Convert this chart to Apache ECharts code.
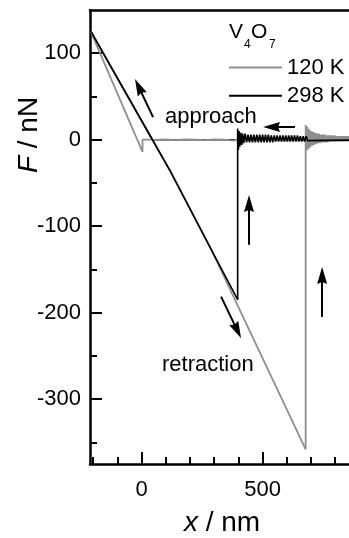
<!DOCTYPE html>
<html><head><meta charset="utf-8">
<script src="https://cdn.jsdelivr.net/npm/echarts@6/dist/echarts.min.js"></script>
<style>html,body{margin:0;padding:0;background:#fff}#c{width:349px;height:538px}</style>
</head><body><div id="c"></div>
<script>
const FONT = '"Liberation Sans", Arial, Helvetica, sans-serif';

// axis ticks / labels
const xMajorTicks = [0, 500];
const xMinorTicks = [-200, -100, 100, 200, 300, 400, 600, 700, 800];
const xTickLabels = [0, 500];
const yMajorTicks = [-300, -200, -100, 0, 100];
const yMinorTicks = [-350, -250, -150, -50, 50];

const seriesNames = ['120 K', '298 K'];

// 120 K approach: far -> snap-in at x~4 -> contact
const gray120Approach = [
  [1000, 0.5], [950, -0.5], [900, 0.5], [860, -0.5], [820, 0.5], [780, -0.5], [740, 0.5], [700, -0.5],
  [660, 0], [620, 0.5], [580, -0.5], [540, 0], [500, 0.5], [460, -0.5], [420, 0], [400, 1], [380, -1],
  [340, 0], [300, 0.5], [260, -0.5], [220, 0], [180, 0.5], [140, -0.5], [100, 0.3], [60, -0.3], [20, 0],
  [4, 0], [4, -14], [-213, 127]
];
// 120 K retraction: contact -> pull-off at x~678 -> ringing
const gray120Retract = [
  [-213, 127], [116, -35], [288, -127], [678, -358], [678, 17], [681, -13], [685, 15], [689, -11],
  [693, 12], [697, -9], [701, 10], [705, -7], [709, 9], [713, -6], [717, 8], [721, -5], [725, 7],
  [729, -4], [733, 7], [737, -4], [741, 6], [745, -3], [749, 6], [753, -3], [757, 6], [761, -3],
  [765, 5], [769, -3], [773, 5], [777, -2], [781, 5], [785, -2], [789, 5], [793, -2], [797, 5],
  [801, -2], [805, 4], [809, -2], [813, 4], [817, -2], [821, 4], [825, -2], [829, 4], [833, -2],
  [837, 4], [841, -2], [845, 4], [849, -2], [853, 4], [857, -2], [861, 3], [865, -1], [880, 2],
  [900, -1], [950, 1], [1000, 0]
];
// 298 K approach
const black298Approach = [[1000, 0], [44, 0], [-213, 127]];
// 298 K retraction: pull-off at x~397 -> ringing
const black298Retract = [
  [-213, 127], [116, -35], [288, -127], [397, -185], [397, 13], [400, -12], [403, 10], [406, -8],
  [410, 8], [414, -6], [418, 7], [422, -4], [428, 7], [434, -3], [440, 6], [446, -3], [452, 6],
  [458, -3], [464, 6], [470, -3], [476, 6], [482, -3], [488, 6], [494, -3], [500, 6], [506, -3],
  [512, 6], [518, -3], [524, 6], [530, -3], [536, 5], [542, -3], [548, 5], [554, -2], [560, 5],
  [566, -2], [572, 5], [578, -2], [584, 5], [590, -2], [596, 5], [602, -2], [608, 5], [614, -2],
  [620, 5], [626, -2], [632, 5], [638, -2], [644, 5], [650, -2], [656, 4], [662, -2], [668, 4],
  [674, -2], [680, 4], [686, -1], [692, 1], [1000, 0]
];
// annotation arrows: [tail, head] in data coordinates
const arrowLines = [
  [[47.5, 26.2], [-12, 61.3]],
  [[634, 14.7], [537, 14.7]],
  [[444, -121.5], [444, -73.8]],
  [[746, -205], [746, -157]],
  [[328.5, -181.5], [395.9, -220.7]]
];

const GRAY = '#8f8f8f';
const BLACK = '#000000';
const X_MIN = -213, X_MAX = 857, Y_MIN = -375, Y_MAX = 150;
const ARROW_HEAD = 'path://M5,0 L10,17 L5,15 L0,17 Z';

const chart = echarts.init(document.getElementById('c'), null, { renderer: 'canvas' });

function xAx(pos, ticks, len, labels, line) {
  return {
    type: 'value', min: X_MIN, max: X_MAX, position: pos, gridIndex: 0,
    axisLine: { show: line, onZero: false, lineStyle: { color: '#000', width: 2.5 } },
    splitLine: { show: false },
    axisTick: ticks ? { show: true, inside: true, length: len, customValues: ticks, lineStyle: { color: '#000', width: 2 } } : { show: false },
    axisLabel: labels ? { show: true, customValues: labels, color: '#000', fontSize: 22, fontFamily: FONT, margin: 15 } : { show: false }
  };
}
function yAx(ticks, len, labels, line) {
  return {
    type: 'value', min: Y_MIN, max: Y_MAX, position: 'left', gridIndex: 0,
    axisLine: { show: line, onZero: false, lineStyle: { color: '#000', width: 2.5 } },
    splitLine: { show: false },
    axisTick: { show: true, inside: true, length: len, customValues: ticks, lineStyle: { color: '#000', width: 2 } },
    axisLabel: labels ? { show: true, customValues: labels, color: '#000', fontSize: 22, fontFamily: FONT, margin: 9 } : { show: false }
  };
}

const arrowData = arrowLines.map(a => [
  { coord: a[0], symbol: 'none' },
  { coord: a[1], symbol: ARROW_HEAD, symbolSize: [10, 17] }
]);

chart.setOption({
  animation: false,
  backgroundColor: '#fff',
  grid: { left: 90, top: 10, right: 0, height: 454, show: false },
  xAxis: [
    xAx('bottom', xMajorTicks, 12, xTickLabels, true),
    xAx('bottom', xMinorTicks, 7, null, false),
    xAx('top', null, 0, null, true)
  ],
  yAxis: [yAx(yMajorTicks, 12, yMajorTicks, true), yAx(yMinorTicks, 7, null, false)],
  legend: {
    data: seriesNames, orient: 'vertical', left: 229, top: 56.5, padding: 0,
    itemWidth: 53, itemHeight: 2, itemGap: 6.3, selectedMode: false, icon: 'rect',
    textStyle: { color: '#000', fontSize: 22, fontFamily: FONT, lineHeight: 22 }
  },
  series: [
    { name: seriesNames[1], type: 'line', data: black298Approach, showSymbol: false, symbol: 'none',
      color: BLACK, lineStyle: { color: BLACK, width: 1.6 }, z: 2,
      markLine: { silent: true, symbol: ['none', 'arrow'],
        label: { show: false }, lineStyle: { color: '#000', width: 2, type: 'solid' }, data: arrowData, z: 10 } },
    { name: seriesNames[0], type: 'line', data: gray120Approach, showSymbol: false, symbol: 'none',
      color: GRAY, lineStyle: { color: GRAY, width: 1.8 }, z: 3 },
    { name: seriesNames[0], type: 'line', data: gray120Retract, showSymbol: false, symbol: 'none',
      color: GRAY, lineStyle: { color: GRAY, width: 1.8 }, z: 4 },
    { name: seriesNames[1], type: 'line', data: black298Retract, showSymbol: false, symbol: 'none',
      color: BLACK, lineStyle: { color: BLACK, width: 1.6 }, z: 5 }
  ],
  graphic: [
    { type: 'text', x: 29, y: 135, rotation: Math.PI / 2, z: 100,
      style: { text: '{i|F} / nN', font: '28px ' + FONT, fill: '#000', align: 'center', verticalAlign: 'middle',
        rich: { i: { font: 'italic 28px ' + FONT, fill: '#000' } } } },
    { type: 'text', x: 222, y: 523, z: 100,
      style: { text: '{i|x} / nm', font: '28px ' + FONT, fill: '#000', align: 'center', verticalAlign: 'middle',
        rich: { i: { font: 'italic 28px ' + FONT, fill: '#000' } } } },
    { type: 'text', x: 165, y: 117, z: 100, style: { text: 'approach', font: '22px ' + FONT, fill: '#000', align: 'left', verticalAlign: 'middle' } },
    { type: 'text', x: 162, y: 364.5, z: 100, style: { text: 'retraction', font: '22px ' + FONT, fill: '#000', align: 'left', verticalAlign: 'middle' } },
    { type: 'text', x: 229, y: 32.5, z: 100, style: { text: 'V', font: '21px ' + FONT, fill: '#000', align: 'left', verticalAlign: 'middle' } },
    { type: 'text', x: 244, y: 45, z: 100, style: { text: '4', font: '12px ' + FONT, fill: '#000', align: 'left', verticalAlign: 'middle' } },
    { type: 'text', x: 251, y: 32.5, z: 100, style: { text: 'O', font: '21px ' + FONT, fill: '#000', align: 'left', verticalAlign: 'middle' } },
    { type: 'text', x: 269, y: 45, z: 100, style: { text: '7', font: '12px ' + FONT, fill: '#000', align: 'left', verticalAlign: 'middle' } }
  ]
});
</script>
</body></html>
